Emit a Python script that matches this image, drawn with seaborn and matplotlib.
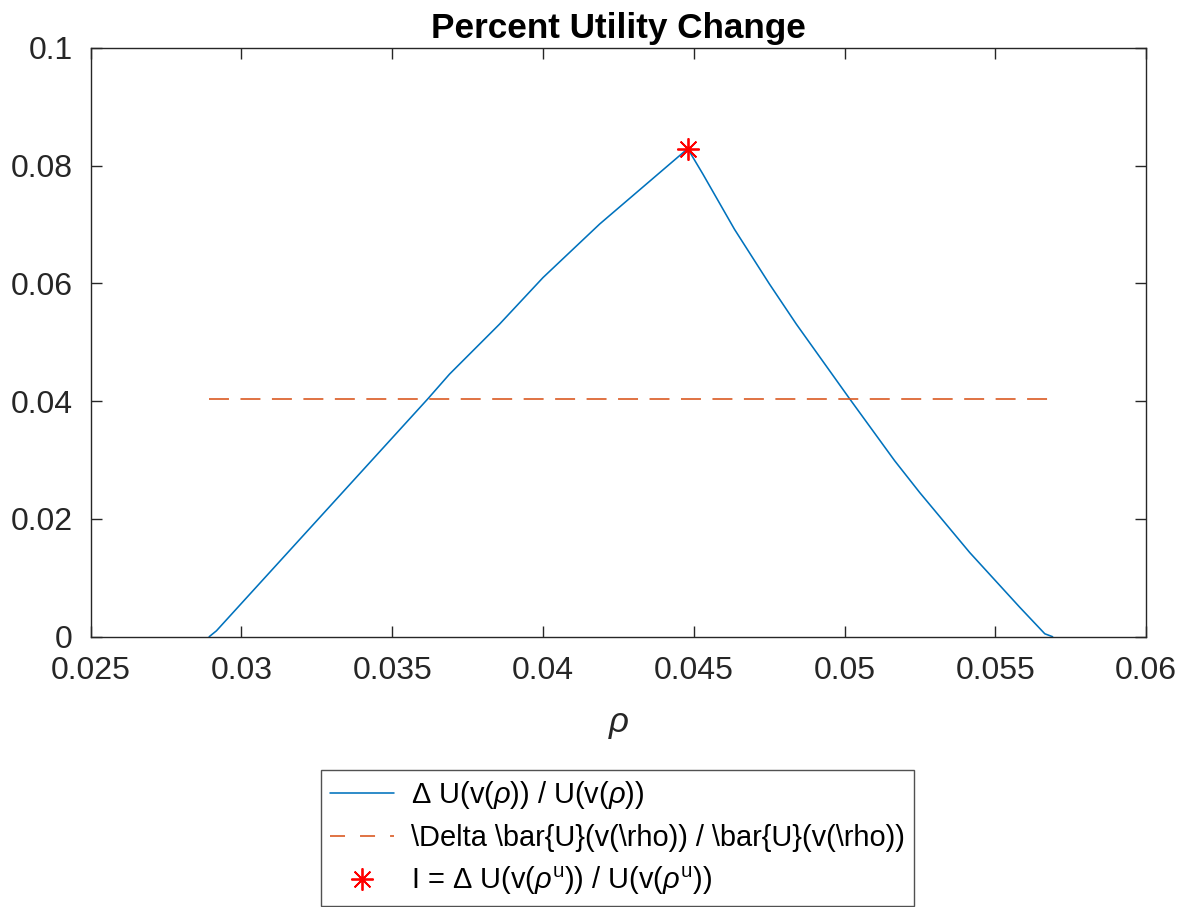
import numpy as np
import pandas as pd
import matplotlib
matplotlib.use("Agg")
import matplotlib.pyplot as plt
import seaborn as sns
from matplotlib.lines import Line2D

# ---- data ----
rho = [0.02893, 0.02917, 0.03618, 0.03690, 0.03856, 0.04000, 0.04188, 0.04480,
       0.04530, 0.04635, 0.04751, 0.04840, 0.05017, 0.05166, 0.05249, 0.05415,
       0.05581, 0.05664, 0.05690]
dU = [0.0, 0.0010, 0.0404, 0.0446, 0.0531, 0.0610, 0.0701, 0.0829,
      0.0786, 0.0692, 0.0599, 0.0531, 0.0404, 0.0299, 0.0245, 0.0143,
      0.0050, 0.0005, 0.0]
bar_rho = [0.02893, 0.05690]
bar_dU = [0.0404, 0.0404]
star_rho = [0.04480]
star_dU = [0.0829]

xticks = [0.025, 0.03, 0.035, 0.04, 0.045, 0.05, 0.055, 0.06]
xticklabels = ["0.025", "0.03", "0.035", "0.04", "0.045", "0.05", "0.055", "0.06"]
yticks = [0, 0.02, 0.04, 0.06, 0.08, 0.1]
yticklabels = ["0", "0.02", "0.04", "0.06", "0.08", "0.1"]

labels = [r"$\Delta$ U(v($\rho$)) / U(v($\rho$))",
          r"\Delta \bar{U}(v(\rho)) / \bar{U}(v(\rho))",
          r"I = $\Delta$ U(v($\rho^{\mathrm{u}}$)) / U(v($\rho^{\mathrm{u}}$))"]

sns.set_theme(style="ticks")
plt.rcParams["font.family"] = ["Liberation Sans", "DejaVu Sans"]
plt.rcParams["mathtext.fontset"] = "custom"
plt.rcParams["mathtext.rm"] = "Liberation Sans"
plt.rcParams["mathtext.it"] = "Liberation Sans:italic"
plt.rcParams["mathtext.bf"] = "Liberation Sans:bold"

blue = "#0072BD"
orange = "#D95319"
dark = "#262626"
LW = 1.15

fig = plt.figure(figsize=(11.93, 9.07), dpi=100)
ax = fig.add_axes([0.0760, 0.2980, 0.9607 - 0.0760, 0.9471 - 0.2980])

df1 = pd.DataFrame({"rho": rho, "dU": dU})
df2 = pd.DataFrame({"rho": bar_rho, "dU": bar_dU})
sns.lineplot(data=df1, x="rho", y="dU", ax=ax, color=blue, lw=LW, sort=False,
             estimator=None)
sns.lineplot(data=df2, x="rho", y="dU", ax=ax, color=orange, lw=LW, sort=False,
             estimator=None, dashes=False)
ax.lines[-1].set_dashes((12.5, 7.2))
ax.plot(star_rho, star_dU, linestyle="none", marker=(8, 2, 0), markersize=16,
        markeredgewidth=1.3, color="#FF0000")

ax.set_xlim(0.025, 0.06)
ax.set_ylim(0, 0.1)
ax.set_xticks(xticks)
ax.set_xticklabels(xticklabels)
ax.set_yticks(yticks)
ax.set_yticklabels(yticklabels)
ax.tick_params(direction="in", length=8, width=1, colors=dark, labelsize=23,
               top=True, right=True)
ax.tick_params(axis="x", pad=14)
ax.tick_params(axis="y", pad=13)
for s in ax.spines.values():
    s.set_visible(True)
    s.set_color(dark)
    s.set_linewidth(1.0)
ax.set_xlabel(r"$\rho$", fontsize=25, color=dark, labelpad=16)
ax.set_ylabel("")
ax.set_title("Percent Utility Change", fontsize=25.3, fontweight="bold", color="black", pad=7)

handles = [Line2D([], [], color=blue, lw=LW),
           Line2D([], [], color=orange, lw=LW, dashes=(9.4, 9.4)),
           Line2D([], [], color="#FF0000", linestyle="none", marker=(8, 2, 0),
                  markersize=16, markeredgewidth=1.3)]
leg = fig.legend(handles, labels, loc="upper center", bbox_to_anchor=(0.5175, 0.151),
                 fontsize=20.9, frameon=True, fancybox=False, edgecolor=dark,
                 handlelength=2.2, handletextpad=0.6, borderpad=0.3,
                 labelspacing=0.45, borderaxespad=0)
leg.get_frame().set_linewidth(1.0)
for t in leg.get_texts():
    t.set_color("black")

fig.savefig("out.png", dpi=100, facecolor="white")
